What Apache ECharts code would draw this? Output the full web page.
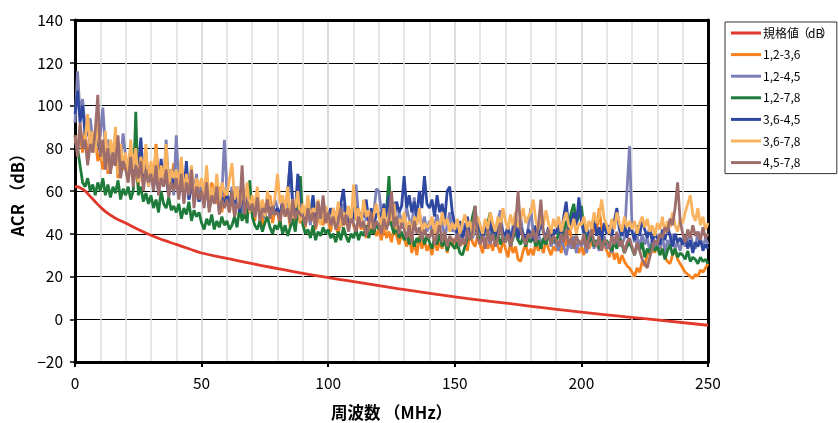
<!DOCTYPE html>
<html><head><meta charset="utf-8">
<script src="https://cdn.jsdelivr.net/npm/echarts@6/dist/echarts.min.js"></script>
<style>html,body{margin:0;padding:0;background:#fff}#c{width:838px;height:423px}</style>
</head><body><div id="c"></div>
<script>
const SERIES_NAMES = ['規格値（dB）','1,2-3,6','1,2-4,5','1,2-7,8','3,6-4,5','3,6-7,8','4,5-7,8'];
const X_TICKS = [0,50,100,150,200,250];
const Y_TICKS = [-20,0,20,40,60,80,100,120,140];

const LIMIT_FREQ = [0,1,2,4,6,8,10,13,16,20,25,30,35,40,45,50,60,70,80,90,100,125,150,175,200,225,250];
const LIMIT_VALUES = [62,62,61.5,60,57.5,55,52.5,49.5,47.3,45,42,39.3,37,35,33,31,28.5,26,23.7,21.5,19.5,14.8,10.5,6.8,3.3,0.3,-2.8];

const FREQ = [0,1,2,3,4,5,6,7,8,9,10,11,12,13,14,15,16,17,18,19,20,21,22,23,24,25,26,27,28,29,
30,31,32,33,34,35,36,37,38,39,40,41,42,43,44,45,46,47,48,49,50,51,52,53,54,55,56,57,58,59,
60,61,62,63,64,65,66,67,68,69,70,71,72,73,74,75,76,77,78,79,80,81,82,83,84,85,86,87,88,89,
90,91,92,93,94,95,96,97,98,99,100,101,102,103,104,105,106,107,108,109,110,111,112,113,114,115,116,117,118,119,
120,121,122,123,124,125,126,127,128,129,130,131,132,133,134,135,136,137,138,139,140,141,142,143,144,145,146,147,148,149,
150,151,152,153,154,155,156,157,158,159,160,161,162,163,164,165,166,167,168,169,170,171,172,173,174,175,176,177,178,179,
180,181,182,183,184,185,186,187,188,189,190,191,192,193,194,195,196,197,198,199,200,201,202,203,204,205,206,207,208,209,
210,211,212,213,214,215,216,217,218,219,220,221,222,223,224,225,226,227,228,229,230,231,232,233,234,235,236,237,238,239,
240,241,242,243,244,245,246,247,248,249,250];

const S_12_36 = [
84,80,86,78,88,76,82,79,85,74, 78,70,82,68,76,72,80,66,74,70, 72,64,76,66,70,62,74,68,78,65,
70,64,82,66,72,62,76,68,64,73, 66,60,74,58,68,62,70,56,64,60, 62,55,68,52,64,58,54,62,50,60,
56,50,60,48,55,52,58,47,54,50, 52,46,56,48,43,54,50,58,45,51, 50,44,56,48,52,43,54,46,50,45,
48,43,52,45,50,42,47,51,44,48, 46,41,50,43,40,48,44,46,42,49, 44,40,47,42,45,38,46,41,43,39,
42,37,44,38,41,36,43,39,35,40, 38,34,40,31,36,30,39,33,37,32, 35,30,38,32,36,33,40,31,37,34,
38,33,40,35,37,32,41,36,34,39, 35,31,38,33,36,32,39,34,31,37, 33,29,36,31,34,28,27,32,35,30,
33,30,36,32,35,31,37,33,30,34, 32,36,31,40,34,46,38,33,36,31, 34,30,38,33,36,44,40,52,42,35,
32,29,34,28,31,26,30,27,25,24, 22,20,24,22,27,25,30,33,36,31, 37,34,32,29,27,26,30,33,28,26,
24,22,21,20,19,21,20,23,22,24,26];

const S_12_45 = [
92,116,96,103,90,86,94,84,88,82, 86,99,80,84,76,82,72,78,74,87, 76,70,80,66,74,68,72,64,78,62,
70,64,74,60,68,62,84,60,70,58, 86,62,70,58,66,56,64,60,68,55, 62,54,66,52,60,56,63,50,58,84,
60,52,62,50,57,54,48,58,52,60, 54,48,58,50,55,47,57,52,49,56, 52,47,56,50,60,74,52,48,55,46,
53,46,50,44,56,48,51,45,49,52, 48,44,52,46,50,43,54,47,45,50, 46,63,48,44,52,46,50,43,49,61,
60,50,46,52,44,48,55,42,50,46, 44,52,47,42,57,45,50,43,48,41, 46,40,44,49,42,46,38,44,50,41,
43,38,42,36,45,40,44,38,41,46, 40,37,43,39,35,42,38,46,51,40, 38,42,36,44,40,37,48,39,35,43,
52,40,36,42,33,38,35,41,34,37, 35,32,38,34,30,36,33,39,31,37, 34,38,31,36,40,33,37,32,35,39,
33,36,31,38,34,40,35,38,60,81, 42,36,39,33,40,35,38,32,37,34, 36,33,39,31,37,35,40,33,36,32,
38,34,37,40,35,33,41,36,34,38,35];

const S_12_78 = [
86,80,72,64,62,66,60,63,58,64, 60,66,58,63,57,62,59,65,56,61, 58,62,56,60,97,58,62,55,59,54,
58,52,56,50,60,54,52,57,51,53, 50,54,47,52,49,55,46,51,48,50, 45,42,47,44,49,42,46,43,48,44,
46,42,44,48,43,52,46,50,45,65, 48,44,42,46,41,45,48,43,40,44, 42,46,40,44,39,43,47,41,52,67,
44,40,42,38,44,37,41,39,43,40, 42,38,40,36,41,37,43,39,36,40, 38,42,37,41,39,44,38,42,40,45,
42,46,48,50,67,44,40,43,38,41, 37,40,35,39,34,38,36,41,35,39, 36,33,38,35,40,34,37,32,36,35,
33,36,31,30,34,38,42,48,53,40, 36,39,42,45,50,40,37,41,35,38, 36,40,34,38,42,37,35,39,34,38,
36,39,34,37,33,38,35,40,36,38, 36,40,42,38,46,44,50,54,45,48, 53,42,38,36,40,34,37,33,38,35,
37,34,32,36,33,38,35,31,34,36, 33,30,35,32,36,29,33,31,35,32, 34,30,33,28,32,35,30,33,29,31,
30,28,32,27,29,28,26,29,27,28,26];

const S_36_45 = [
96,107,92,100,86,90,82,88,80,84, 78,82,74,80,70,76,72,78,68,75, 72,66,74,68,78,70,85,66,72,64,
70,62,68,60,75,64,66,58,70,62, 64,58,66,60,74,56,62,58,60,55, 60,54,62,52,58,56,63,53,57,54,
58,52,60,54,62,50,56,53,59,51, 55,50,57,49,53,48,56,51,54,50, 52,48,56,50,58,74,54,50,68,52,
50,47,54,49,58,48,52,46,53,50, 48,52,46,50,47,54,61,49,45,51, 47,53,45,50,48,56,46,52,44,49,
50,46,54,48,58,52,47,55,50,53, 67,52,58,50,55,48,60,52,67,54, 52,56,48,58,50,54,46,60,62,50,
44,40,46,38,42,48,39,44,41,46, 42,38,44,40,46,37,43,39,45,41, 39,44,37,42,46,38,43,40,36,42,
40,37,44,39,46,41,38,43,36,42, 40,45,38,48,55,42,46,50,44,57, 46,40,44,38,42,48,39,43,37,45,
40,44,38,46,52,42,39,45,38,43, 41,37,44,39,47,42,38,43,36,40, 38,35,42,37,44,39,34,40,36,38,
35,39,33,37,31,36,34,38,32,35,33];

const S_36_78 = [
86,80,90,82,84,96,80,88,78,92, 80,74,88,70,84,76,90,68,82,72, 78,66,84,70,80,64,76,68,82,62,
74,66,80,62,72,64,82,60,70,66, 70,62,76,58,68,60,72,56,66,62, 66,58,72,54,62,56,68,52,64,60,
58,66,73,56,62,52,60,55,64,50, 58,52,62,50,56,48,60,54,52,57, 68,54,58,50,62,48,56,52,60,46,
54,48,58,46,52,50,56,44,50,53, 48,44,52,46,55,43,50,47,53,45, 63,46,52,44,56,48,51,43,49,54,
48,44,52,41,50,46,54,42,47,44, 50,42,46,40,48,44,52,41,45,43, 44,48,40,46,42,50,44,47,41,45,
42,47,40,45,49,43,46,39,44,48, 44,40,47,42,50,45,41,48,43,52, 46,42,49,44,50,43,47,52,45,48,
50,56,46,42,48,44,51,45,40,47, 43,48,41,46,50,44,42,47,40,45, 44,48,41,46,42,50,45,48,56,47,
44,40,47,42,50,45,41,48,43,46, 42,46,40,45,48,43,47,41,44,39, 45,42,48,40,46,43,50,44,41,47,
45,50,54,58,49,46,52,44,48,42,45];

const S_45_78 = [
86,76,92,80,84,72,82,78,88,105, 76,84,70,80,68,78,72,86,66,74, 70,64,76,62,72,66,74,60,70,64,
68,60,72,58,66,62,70,57,64,60, 66,56,68,54,64,58,70,52,62,56, 60,52,64,50,58,54,62,49,56,52,
56,50,60,48,54,52,72,49,55,51, 54,48,57,46,52,50,56,47,53,49, 50,46,54,48,52,45,56,47,51,49,
48,44,52,46,50,43,55,47,58,45, 50,44,48,42,46,52,44,49,41,47, 45,41,48,43,46,39,44,50,42,46,
44,40,47,42,46,60,43,48,40,45, 42,38,44,36,46,40,43,37,42,39, 38,42,35,40,44,36,41,34,39,37,
36,40,34,38,35,42,37,40,53,38, 35,39,33,42,36,40,34,38,45,37, 36,40,34,39,45,60,42,38,35,40,
38,42,36,44,56,40,37,42,35,39, 37,34,40,36,42,35,38,33,39,36, 35,40,33,38,42,36,34,39,32,37,
36,33,39,35,41,34,37,31,36,38, 34,30,36,32,28,26,24,29,33,37, 35,40,38,43,41,47,44,52,64,46,
40,36,42,38,44,39,41,37,43,38,40];

const COLORS = ['#e2382b','#f7821e','#7c80b6','#1e7b3a','#2e47a0','#f9b25e','#9e6e6c'];

const pairs = (xs, ys) => xs.map((x, i) => [x, ys[i]]);
const noiseSets = [S_12_36, S_12_45, S_12_78, S_36_45, S_36_78, S_45_78];

const FONT = '"Noto Sans CJK JP", "Noto Sans", sans-serif';

const series = [{
  name: SERIES_NAMES[0], type: 'line', data: pairs(LIMIT_FREQ, LIMIT_VALUES),
  showSymbol: false, symbol: 'none', smooth: true, lineStyle: {width: 2.8, color: COLORS[0]}, itemStyle: {color: COLORS[0]}, z: 2
}];
noiseSets.forEach((arr, k) => {
  series.push({
    name: SERIES_NAMES[k + 1], type: 'line', data: pairs(FREQ, arr),
    showSymbol: false, symbol: 'none', lineStyle: {width: 2.8, color: COLORS[k + 1]}, itemStyle: {color: COLORS[k + 1]}, z: 3 + k
  });
});

const frameAxis = {show: true, onZero: false, lineStyle: {color: '#000', width: 3}};
const minusFmt = v => String(v).replace('-', '\u2212');
const legendFmt = n => '{c|' + n.replace(/（/g, '}{l|（}{c|').replace(/）/g, '}{r|）}{c|') + '}';

const chart = echarts.init(document.getElementById('c'));
chart.setOption({
  animation: false,
  backgroundColor: '#fff',
  grid: {left: 75, top: 20, width: 633, height: 342, outerBoundsMode: 'none', containLabel: false},
  legend: {
    orient: 'vertical', left: 725, top: 22,
    data: SERIES_NAMES,
    icon: 'rect', itemWidth: 30, itemHeight: 3, itemGap: 7.6,
    borderColor: '#333', borderWidth: 1, padding: [4, 4, 4, 6],
    formatter: legendFmt,
    textStyle: {
      fontFamily: FONT, fontSize: 12, color: '#000', lineHeight: 14, padding: [0, 0, 0, -3],
      rich: {
        c: {fontFamily: FONT, fontSize: 12, color: '#000', lineHeight: 14},
        l: {fontFamily: FONT, fontSize: 12, color: '#000', lineHeight: 14, width: 9, align: 'right'},
        r: {fontFamily: FONT, fontSize: 12, color: '#000', lineHeight: 14, width: 7, align: 'left'}
      }
    }
  },
  xAxis: [{
    type: 'value', min: X_TICKS[0], max: X_TICKS[X_TICKS.length - 1], interval: 50,
    name: '周波数 （MHz）', nameLocation: 'middle', nameGap: 42,
    nameTextStyle: {fontFamily: FONT, fontSize: 16.5, fontWeight: 'bold', color: '#000'},
    axisLine: frameAxis,
    axisTick: {show: true, length: 5, lineStyle: {color: '#000', width: 2}},
    axisLabel: {fontFamily: FONT, fontSize: 15.5, color: '#000', margin: 13},
    splitLine: {show: true, lineStyle: {color: '#cfcfcf', width: 1.5}},
    minorTick: {show: true, splitNumber: 5, length: 0},
    minorSplitLine: {show: true, lineStyle: {color: '#dedede', width: 1.5}}
  }, {
    type: 'value', position: 'top', min: X_TICKS[0], max: X_TICKS[X_TICKS.length - 1],
    axisLine: frameAxis, axisTick: {show: false}, axisLabel: {show: false}, splitLine: {show: false}
  }],
  yAxis: [{
    type: 'value', min: Y_TICKS[0], max: Y_TICKS[Y_TICKS.length - 1], interval: 20,
    name: 'ACR （dB）', nameLocation: 'middle', nameGap: 48, nameRotate: 90,
    nameTextStyle: {fontFamily: FONT, fontSize: 16.5, fontWeight: 'bold', color: '#000'},
    axisLine: frameAxis,
    axisTick: {show: true, length: 5, lineStyle: {color: '#000', width: 1.5}},
    axisLabel: {fontFamily: FONT, fontSize: 15.5, color: '#000', margin: 12, formatter: minusFmt},
    splitLine: {show: true, lineStyle: {color: '#000', width: 1}}
  }, {
    type: 'value', position: 'right', min: Y_TICKS[0], max: Y_TICKS[Y_TICKS.length - 1],
    axisLine: frameAxis, axisTick: {show: false}, axisLabel: {show: false}, splitLine: {show: false}
  }],
  series: series
});
</script></body></html>
